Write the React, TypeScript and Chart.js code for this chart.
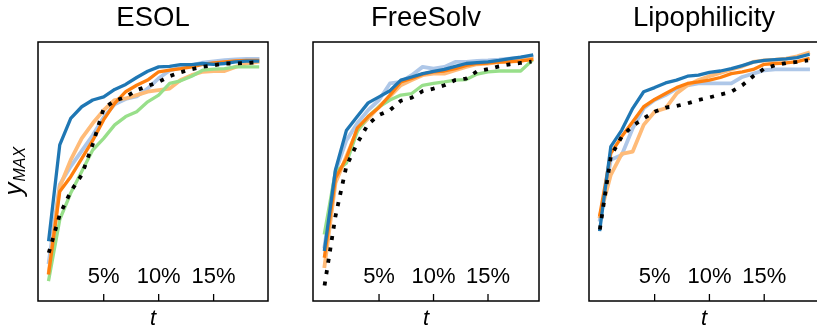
import React, { useEffect, useRef } from "react";
import { Chart, registerables } from "chart.js";

Chart.register(...registerables);

// ---------- data ----------
const T = [0, 1, 2, 3, 4, 5, 6, 7, 8, 9, 10, 11, 12, 13, 14, 15, 16, 17, 18, 19];
const PCT_TICKS = [5, 10, 15];
const TITLES = ["ESOL", "FreeSolv", "Lipophilicity"];

const ESOL_BLUE = [23.7, 60.3, 70.5, 75, 77.6, 78.8, 81.7, 83.6, 86.3, 88.7, 90.4, 90.6, 91.3, 91.3, 91.7, 91.4, 91.7, 92.3, 92.6, 92.6];
const ESOL_LBLUE = [15, 45, 52, 58, 64, 71, 76, 78, 79, 82, 86, 89, 90, 91, 92, 92.5, 93, 93.3, 93.5, 93.5];
const ESOL_ORANGE = [10.9, 42.3, 48, 55, 62, 70, 76.3, 80.8, 83.3, 85.3, 88.5, 89.1, 89.7, 90.4, 91.4, 91.9, 92.3, 92.7, 92.9, 92.9];
const ESOL_LORANGE = [11, 44, 54.5, 62.8, 68.6, 73.7, 77.6, 78.2, 79.5, 80.8, 81.4, 82, 85.3, 87.2, 88.5, 88.8, 88.8, 90.4, 91.7, 92.3];
const ESOL_GREEN = [8.3, 31.4, 41.7, 50, 58.3, 62.8, 68, 71.2, 73.1, 76.9, 79.5, 84, 85, 86.8, 89.1, 89.5, 89.7, 90.4, 90.4, 90.4];
const ESOL_DOTTED = [18.6, 33.3, 42.3, 48.7, 60.5, 74.4, 77.3, 78.8, 81.4, 83, 84.6, 86.8, 88.3, 89.5, 90.4, 91, 91.7, 91.7, 91.9, 92.2];

const FREESOLV_BLUE = [19.9, 50.6, 65.8, 71.2, 76.5, 78.8, 81.2, 85.3, 86.5, 87.8, 88.7, 89.4, 90.6, 91.7, 92, 92.3, 92.9, 93.6, 94.2, 94.9];
const FREESOLV_LBLUE = [21, 50, 62, 68.6, 73.7, 77.6, 84, 84.6, 87.2, 90.4, 89.7, 90.4, 92.3, 92.3, 92.7, 92.9, 93.2, 93.6, 94, 94.2];
const FREESOLV_ORANGE = [17.3, 47.4, 55.1, 66.7, 71.2, 74.7, 79.5, 84.6, 85.9, 87.6, 88.5, 88.8, 89.7, 91, 91.7, 91.9, 92.2, 92.4, 92.7, 93.2];
const FREESOLV_LORANGE = [13.5, 45.5, 55.8, 66, 70.5, 75, 79, 83.3, 85.3, 87.2, 87.8, 87.8, 89.1, 90.4, 91.4, 91.7, 92.2, 92.4, 92.7, 93.5];
const FREESOLV_GREEN = [26.3, 50, 53.2, 65.4, 71.2, 75, 77.6, 79.5, 80.1, 83.3, 84, 84.6, 85.3, 85.5, 87.6, 88.5, 88.8, 88.8, 88.8, 92.7];
const FREESOLV_DOTTED = [6, 32.7, 52, 60.9, 68.3, 71.8, 73.7, 77.3, 78.5, 81, 82, 83.3, 85.3, 85.9, 88.7, 89.5, 90.6, 91.4, 91.9, 92.4];

const LIPO_BLUE = [27.6, 59.6, 66, 74.4, 80.8, 82.4, 84.2, 85.3, 86.8, 87.2, 88.3, 88.8, 89.7, 90.9, 92.2, 92.9, 93.2, 93.5, 94, 95.1];
const LIPO_LBLUE = [31.4, 54.5, 56.4, 66.7, 74.4, 77.6, 79.5, 82, 83.3, 84, 84, 84, 84, 86.5, 87.8, 89.1, 89.4, 89.4, 89.4, 89.4];
const LIPO_ORANGE = [33.3, 57, 63.5, 69.2, 75, 77.8, 80.1, 82.4, 84, 84.6, 85.3, 86.3, 87.8, 88.5, 89.4, 91.4, 91.7, 91.9, 92.4, 93.5];
const LIPO_LORANGE = [32.7, 48.7, 56.8, 57.7, 68, 73.1, 74.4, 80.1, 83.3, 85.3, 86.8, 88.1, 89.4, 90.6, 92.3, 92.9, 93.2, 93.6, 94.5, 95.8];
const LIPO_DOTTED = [27.6, 55.8, 63.5, 67.6, 70.5, 73.1, 74.7, 75.3, 76.3, 77.6, 78.6, 79.7, 80.8, 83.3, 86.8, 89.7, 91, 91.9, 92.3, 92.9];

// ---------- styles ----------
const FONT = "'Liberation Sans', Arial, Helvetica, sans-serif";
const C_BLUE = "#1f77b4";
const C_LBLUE = "#aec7e8";
const C_ORANGE = "#ff7f0e";
const C_LORANGE = "#ffbb78";
const C_GREEN = "#98df8a";
const C_BLACK = "#000000";

type SeriesSet = {
  blue: number[];
  lblue: number[];
  orange: number[];
  lorange: number[];
  green: number[] | null;
  dotted: number[];
};

const SERIES: SeriesSet[] = [
  { blue: ESOL_BLUE, lblue: ESOL_LBLUE, orange: ESOL_ORANGE, lorange: ESOL_LORANGE, green: ESOL_GREEN, dotted: ESOL_DOTTED },
  { blue: FREESOLV_BLUE, lblue: FREESOLV_LBLUE, orange: FREESOLV_ORANGE, lorange: FREESOLV_LORANGE, green: FREESOLV_GREEN, dotted: FREESOLV_DOTTED },
  { blue: LIPO_BLUE, lblue: LIPO_LBLUE, orange: LIPO_ORANGE, lorange: LIPO_LORANGE, green: null, dotted: LIPO_DOTTED },
];

// layout per panel (canvas position and padding around the plot area)
const PANELS = [
  { left: 0, width: 280, padLeft: 38, padRight: 12, xMin: -0.98, xMax: 19.95, yLabel: true },
  { left: 280, width: 270, padLeft: 33, padRight: 11, xMin: -1.06, xMax: 19.68, yLabel: false },
  { left: 550, width: 280, padLeft: 39, padRight: 11, xMin: -0.99, xMax: 20.0, yLabel: false },
];

const H = 325;

function pts(values: number[]) {
  return values.map((v, i) => ({ x: T[i], y: v }));
}

function lineDs(label: string, values: number[], color: string, width: number, dash?: number[]) {
  return {
    label,
    data: pts(values),
    borderColor: color,
    backgroundColor: color,
    borderWidth: width,
    pointRadius: 0,
    tension: 0,
    fill: false,
    borderJoinStyle: "round" as const,
    borderCapStyle: dash ? ("butt" as const) : ("square" as const),
    borderDash: dash || [],
  };
}

const framePlugin = {
  id: "frameAndTicks",
  afterDraw(chart: any, _args: any, opts: any) {
    const { ctx, chartArea: a, scales } = chart;
    ctx.save();
    ctx.strokeStyle = "#000";
    ctx.lineWidth = 1.5;
    ctx.strokeRect(a.left, a.top, a.right - a.left, a.bottom - a.top);
    ctx.lineWidth = 1.3;
    ctx.fillStyle = "#000";
    ctx.font = `22px ${FONT}`;
    ctx.textAlign = "center";
    ctx.textBaseline = "alphabetic";
    for (const v of PCT_TICKS) {
      const x = scales.x.getPixelForValue(v);
      ctx.beginPath();
      ctx.moveTo(x, a.bottom);
      ctx.lineTo(x, a.bottom - 7);
      ctx.stroke();
      ctx.fillText(`${v}%`, x, a.bottom - 18.5);
    }
    if (opts && opts.yLabel) {
      const cy = (a.top + a.bottom) / 2;
      ctx.translate(21.5, cy + 24);
      ctx.rotate(-Math.PI / 2);
      ctx.textAlign = "left";
      ctx.font = `italic 26px ${FONT}`;
      ctx.fillText("y", 0, 0);
      const w = ctx.measureText("y").width;
      ctx.font = `italic 16px ${FONT}`;
      ctx.fillText("MAX", w + 1, 3.5);
    }
    ctx.restore();
  },
};

function Panel({ idx }: { idx: number }) {
  const ref = useRef<HTMLCanvasElement>(null);
  useEffect(() => {
    const p = PANELS[idx];
    const s = SERIES[idx];
    const datasets: any[] = [];
    datasets.push(lineDs("random", s.dotted, C_BLACK, 3.8, [4, 7.5]));
    datasets.push(lineDs("blue", s.blue, C_BLUE, 3.3));
    datasets.push(lineDs("orange", s.orange, C_ORANGE, 3.3));
    if (s.green) datasets.push(lineDs("green", s.green, C_GREEN, 3.3));
    datasets.push(lineDs("lorange", s.lorange, C_LORANGE, 3.8));
    datasets.push(lineDs("lblue", s.lblue, C_LBLUE, 3.8));
    const chart = new Chart(ref.current as HTMLCanvasElement, {
      type: "line",
      data: { datasets },
      options: {
        animation: false,
        responsive: false,
        maintainAspectRatio: false,
        events: [],
        layout: { padding: { left: p.padLeft, right: p.padRight, top: 0, bottom: 0 } },
        plugins: {
          legend: { display: false },
          tooltip: { enabled: false },
          title: {
            display: true,
            text: TITLES[idx],
            color: "#000",
            fullSize: false,
            font: { family: FONT, size: 27.5, weight: "normal", lineHeight: 1.2 },
            padding: { top: 1.8, bottom: 7.2 },
          },
          frameAndTicks: { yLabel: p.yLabel },
        } as any,
        scales: {
          x: {
            type: "linear",
            min: p.xMin,
            max: p.xMax,
            display: true,
            grid: { display: false, drawTicks: false },
            border: { display: false },
            ticks: { display: false },
            title: {
              display: true,
              text: "t",
              color: "#000",
              font: { family: FONT, size: 22, style: "italic", lineHeight: 1 },
              padding: { top: 7, bottom: -5 },
            },
          },
          y: {
            type: "linear",
            min: 0,
            max: 100,
            display: false,
          },
        },
      },
      plugins: [framePlugin],
    } as any);
    return () => chart.destroy();
  }, [idx]);
  const p = PANELS[idx];
  return (
    <canvas
      ref={ref}
      width={p.width}
      height={H}
      style={{ position: "absolute", left: p.left, top: 0, width: p.width, height: H }}
    />
  );
}

export default function App() {
  return (
    <div
      style={{
        position: "absolute",
        left: 0,
        top: 0,
        width: 817,
        height: H,
        overflow: "hidden",
        background: "#fff",
      }}
    >
      <Panel idx={0} />
      <Panel idx={1} />
      <Panel idx={2} />
    </div>
  );
}
